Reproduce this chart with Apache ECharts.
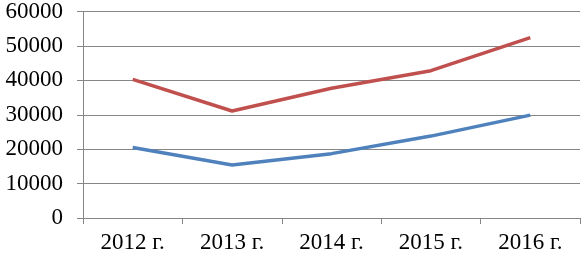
<!DOCTYPE html>
<html>
<head>
<meta charset="utf-8">
<script src="https://cdn.jsdelivr.net/npm/echarts@6/dist/echarts.min.js"></script>
<style>
  html, body { margin: 0; padding: 0; background: #fff; }
  #chart { width: 581px; height: 257px; }
</style>
</head>
<body>
<div id="chart"></div>
<script>
const years = ['2012 г.', '2013 г.', '2014 г.', '2015 г.', '2016 г.']
const redValues = [40300, 31100, 37700, 42800, 52400]
const blueValues = [20500, 15400, 18700, 23800, 29900]

const chart = echarts.init(document.getElementById('chart'))

const font = 'Liberation Serif, Times New Roman, serif'

const option = {
  backgroundColor: '#fff',
  animation: false,
  grid: { left: 83, right: 1, top: 10, bottom: 39 },
  xAxis: {
    type: 'category',
    data: years,
    boundaryGap: true,
    axisLine: { lineStyle: { color: '#868686', width: 1 } },
    axisTick: { show: true, length: 6, lineStyle: { color: '#868686' } },
    axisLabel: { color: '#000', fontFamily: font, fontSize: 23, margin: 13 },
    splitLine: { show: false }
  },
  yAxis: {
    type: 'value',
    min: 0,
    max: 60000,
    interval: 10000,
    axisLine: { show: true, lineStyle: { color: '#868686', width: 1 } },
    axisTick: { show: true, length: 6, lineStyle: { color: '#868686' } },
    axisLabel: {
      color: '#000', fontFamily: font, fontSize: 23, margin: 20,
      formatter: (v) => String(v)
    },
    splitLine: { lineStyle: { color: '#868686', width: 1 } }
  },
  series: [
    {
      name: 'red',
      type: 'line',
      data: redValues,
      symbol: 'none',
      lineStyle: { color: '#c0504d', width: 3.5 }
    },
    {
      name: 'blue',
      type: 'line',
      data: blueValues,
      symbol: 'none',
      lineStyle: { color: '#4f81bd', width: 3.5 }
    }
  ]
}

chart.setOption(option)
</script>
</body>
</html>
